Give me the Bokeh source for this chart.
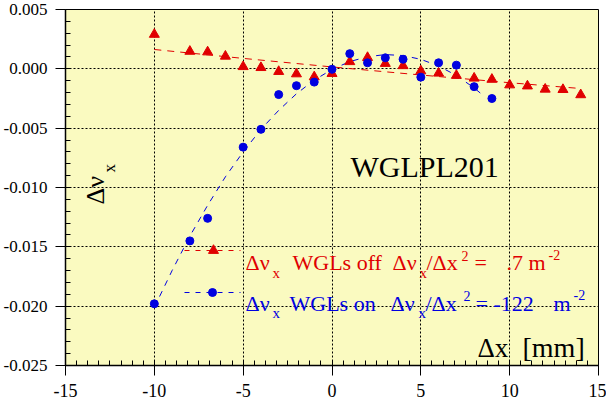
from math import pi
from bokeh.plotting import figure
from bokeh.models import Range1d, SingleIntervalTicker, PrintfTickFormatter, Label
from bokeh.embed import file_html
from bokeh.resources import INLINE

# ---- data ----
off_x = [-10, -8, -7, -6, -5, -4, -3, -2, -1, 0, 1, 2, 3, 4, 5, 6, 7, 8, 9, 10, 11, 12, 13, 14]
off_y = [0.0029, 0.00147, 0.00142, 0.00106, 0.00018, 0.0001, -0.00023, -0.00043, -0.00068,
         -0.0004, 0.0006, 0.00095, 0.00045, 0.00026, -0.00018, -0.00037, -0.00056, -0.00079,
         -0.00089, -0.00136, -0.00145, -0.00172, -0.00175, -0.00219]
on_x = [-10, -8, -7, -5, -4, -3, -2, -1, 0, 1, 2, 3, 4, 5, 6, 7, 8, 9]
on_y = [-0.0198, -0.0145, -0.0126, -0.0066, -0.0051, -0.00217, -0.00142, -0.00112, -0.00004,
        0.00128, 0.00051, 0.00093, 0.00081, -0.0007, 0.00051, 0.00031, -0.0015, -0.0025]
fit_off_x = [-10, -5, 0, 5, 10, 14]
fit_off_y = [0.00163, 0.00088, 0.00016, -0.00052, -0.00117, -0.00166]
fit_on_x = [-10, -9, -8, -7, -6, -5, -4, -3, -2, -1, 0, 1, 2, 3, 4, 5, 6, 7, 8, 8.5]
fit_on_y = [-0.0201, -0.0170, -0.0141, -0.0115, -0.0091, -0.0070, -0.0051, -0.0035, -0.0021,
            -0.00095, -0.00005, 0.00061, 0.00102, 0.00120, 0.00112, 0.00080, 0.00024, -0.00056,
            -0.00161, -0.00223]
x_major = 5
y_major = 0.005

RED = "#e00000"
BLUE = "#0000e0"
FONT = "Liberation Serif"

# frame geometry in page pixels
FL, FR, FT, FB = 73, 606, 17, 373
X0, X1, Y0, Y1 = -15, 15, -0.025, 0.005


def px(x):
    return X0 + (x - FL) / (FR - FL) * (X1 - X0)


def py(y):
    return Y1 - (y - FT) / (FB - FT) * (Y1 - Y0)


W, H = 606, 404
p = figure(width=W, height=H, output_backend="svg", toolbar_location=None,
           x_range=Range1d(X0, X1), y_range=Range1d(Y0, Y1),
           min_border_left=FL - 8, min_border_right=W - (FR - 8),
           min_border_top=FT - 8, min_border_bottom=H - (FB - 8))
p.background_fill_color = "#fafac0"
p.border_fill_color = "white"
p.outline_line_color = "black"
p.outline_line_alpha = 1
p.outline_line_width = 1

p.xaxis.ticker = SingleIntervalTicker(interval=x_major, num_minor_ticks=8)
p.yaxis.ticker = SingleIntervalTicker(interval=y_major, num_minor_ticks=5)
p.xaxis.formatter = PrintfTickFormatter(format="%d")
p.yaxis.formatter = PrintfTickFormatter(format="%.3f")
for ax in (p.xaxis[0], p.yaxis[0]):
    ax.major_tick_out = 10
    ax.major_tick_in = 0
    ax.minor_tick_out = 0
    ax.minor_tick_in = 5
    ax.major_label_text_font = FONT
    ax.major_label_text_font_size = "18px"
    ax.major_label_text_color = "black"
    ax.major_label_standoff = 8
    ax.axis_line_color = "black"
    ax.axis_line_width = 1.5
    ax.major_tick_line_color = "black"
    ax.minor_tick_line_color = "black"
p.yaxis.major_label_text_font_size = "17px"

for g in (p.xgrid[0], p.ygrid[0]):
    g.grid_line_color = "black"
    g.grid_line_alpha = 1
    g.grid_line_dash = "2 2"
    g.grid_line_width = 1

# fits
p.line(fit_off_x, fit_off_y, line_color=RED, line_width=1, line_dash="7 6")
p.line(fit_on_x, fit_on_y, line_color=BLUE, line_width=1, line_dash="6 6")
# points
p.scatter(off_x, off_y, marker="triangle", size=10, fill_color=RED, line_color=RED)
p.scatter(on_x, on_y, marker="circle", size=8, fill_color=BLUE, line_color=BLUE)

# legend samples
p.line([px(192), px(248)], [py(258), py(258)], line_color=RED, line_dash="5 6")
p.scatter([px(221)], [py(258)], marker="triangle", size=10, fill_color=RED, line_color=RED)
p.line([px(192), px(248)], [py(300), py(300)], line_color=BLUE, line_dash="5 6")
p.scatter([px(220)], [py(300)], marker="circle", size=8, fill_color=BLUE, line_color=BLUE)


def lab(text, x, y, size, color="black", angle=0.0):
    p.add_layout(Label(x=px(x), y=py(y), text=text, text_font=FONT,
                       text_font_size=f"{size}px", text_color=color,
                       text_align="left", text_baseline="alphabetic", angle=angle))


# red legend text
rb = 270
for t, x, y, s in [("\u0394\u03bd", 253, rb, 22), ("x", 280, rb + 10, 15), ("WGLs off", 300, rb, 22),
                   ("\u0394\u03bd", 400, rb, 22), ("x", 427, rb + 10, 15), ("/\u0394x", 434, rb, 22),
                   ("2", 469, rb - 7, 14), ("=", 482, rb, 22), (".7", 514, rb, 22),
                   ("m", 536, rb, 22), ("-2", 556, rb - 8, 14)]:
    lab(t, x, y, s, RED)

bb = 311
for t, x, y, s in [("\u0394\u03bd", 253, bb, 22), ("x", 280, bb + 9, 15), ("WGLs on", 297, bb, 22),
                   ("\u0394\u03bd", 398, bb, 22), ("x", 426, bb + 9, 15), ("/\u0394x", 433, bb, 22),
                   ("2", 471, bb - 8, 14), ("=", 483, bb, 22), ("-122", 501, bb, 22),
                   ("m", 561, bb, 22), ("-2", 581, bb - 9, 14)]:
    lab(t, x, y, s, BLUE)

# other texts
lab("WGLPL201", 358, 174, 30)
lab("\u0394x", 485, 355, 27)
lab("[mm]", 530, 355, 28)
lab("\u0394\u03bd", 103, 212, 26, angle=pi / 2)
lab("x", 117, 180, 17, angle=pi / 2)

open("out.html", "w").write(file_html(p, INLINE))
